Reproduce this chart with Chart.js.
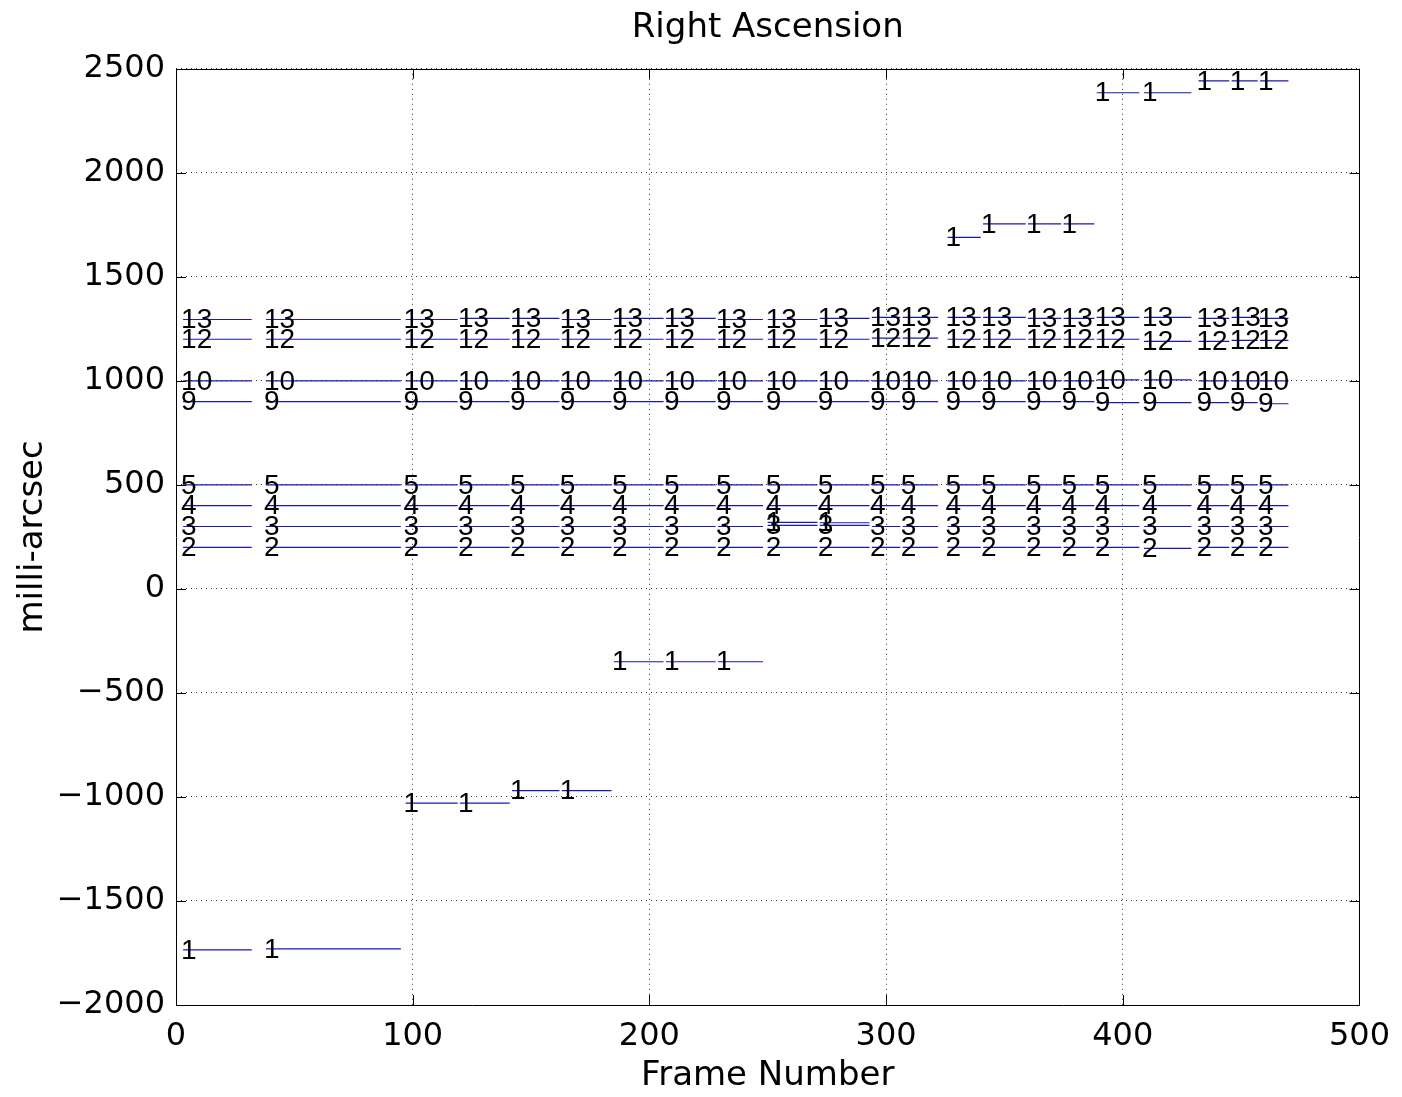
<!DOCTYPE html>
<html><head><meta charset="utf-8">
<script src="https://cdn.jsdelivr.net/npm/chart.js@4.4.1/dist/chart.umd.min.js"></script>
<style>html,body{margin:0;padding:0;background:#fff}</style>
</head><body>
<canvas id="c" width="1402" height="1097"></canvas>
<script>
// ---- data ----
const frameStart = [3, 38, 97, 120, 142, 163, 185, 207, 229, 250, 272, 294, 307, 326, 341, 360, 375, 389, 409, 432, 446, 458];
const frameEnd   = [32, 95, 119, 141, 162, 184, 206, 228, 248, 271, 293, 306, 322, 340, 359, 374, 388, 407, 429, 445, 457, 470];
const seriesNames = ['1', '2', '3', '4', '5', '9', '10', '12', '13'];
const s1  = [-1735, -1730, -1030, -1030, -970, -970, -350, -350, -350, 320, 318, null, null, 1690, 1755, 1755, 1755, 2385, 2385, 2442, 2442, 2442];
const s2  = [200, 200, 200, 200, 200, 200, 200, 200, 200, 200, 200, 200, 200, 200, 200, 200, 200, 200, 195, 200, 200, 200];
const s3  = [300, 300, 300, 300, 300, 300, 300, 300, 300, 305, 305, 300, 300, 300, 300, 300, 300, 300, 300, 300, 300, 300];
const s4  = [400, 400, 400, 400, 400, 400, 400, 400, 400, 400, 400, 400, 400, 400, 400, 400, 400, 400, 400, 400, 400, 400];
const s5  = [500, 500, 500, 500, 500, 500, 500, 500, 500, 500, 500, 500, 500, 500, 500, 500, 500, 500, 500, 500, 500, 500];
const s9  = [900, 900, 900, 900, 900, 900, 900, 900, 900, 900, 900, 900, 900, 900, 900, 900, 900, 895, 895, 895, 895, 890];
const s10 = [1000, 1000, 1000, 1000, 1000, 1000, 1000, 1000, 1000, 1000, 1000, 1000, 1000, 1000, 1000, 1000, 1000, 1005, 1005, 1000, 1000, 1000];
const s12 = [1200, 1200, 1200, 1200, 1200, 1200, 1200, 1200, 1200, 1200, 1200, 1205, 1205, 1200, 1200, 1200, 1200, 1200, 1190, 1190, 1195, 1195];
const s13 = [1295, 1295, 1295, 1300, 1300, 1295, 1300, 1300, 1295, 1295, 1300, 1305, 1305, 1305, 1305, 1300, 1300, 1305, 1305, 1300, 1305, 1300];
const xTicks = [0, 100, 200, 300, 400, 500];
const yTicks = [-2000, -1500, -1000, -500, 0, 500, 1000, 1500, 2000, 2500];
const titleText = 'Right Ascension';
const xTitle = 'Frame Number';
const yTitle = 'milli-arcsec';

const allSeries = [s1, s2, s3, s4, s5, s9, s10, s12, s13];
const FONT = 'DejaVu Sans';
const LABEL_FONT = 'Liberation Sans';
const LINE = 'rgb(25,25,180)';

const datasets = [];
allSeries.forEach((vals, si) => {
  vals.forEach((v, gi) => {
    if (v === null) return;
    datasets.push({
      label: seriesNames[si],
      data: [{x: frameStart[gi], y: v}, {x: frameEnd[gi], y: v}],
      showLine: true, borderColor: LINE, borderWidth: 1.2,
      pointRadius: 0, pointHoverRadius: 0, fill: false
    });
  });
});

const labelPlugin = {
  id: 'segLabels',
  afterDatasetsDraw(chart) {
    const ctx = chart.ctx;
    ctx.save();
    ctx.font = '28px "' + LABEL_FONT + '"';
    ctx.fillStyle = '#000';
    ctx.textAlign = 'left';
    ctx.textBaseline = 'middle';
    chart.data.datasets.forEach((ds, i) => {
      const p = chart.getDatasetMeta(i).data[0];
      ctx.fillText(ds.label, p.x - 2, p.y + 1);
    });
    ctx.restore();
  }
};

const framePlugin = {
  id: 'frameTicks',
  afterDraw(chart) {
    const {ctx, chartArea: a, scales} = chart;
    ctx.save();
    ctx.strokeStyle = '#000';
    ctx.lineWidth = 1;
    ctx.beginPath();
    ctx.rect(Math.round(a.left) + 0.5, Math.round(a.top) + 0.5, Math.round(a.right - a.left), Math.round(a.bottom - a.top));
    xTicks.forEach(t => {
      const x = Math.round(scales.x.getPixelForValue(t)) + 0.5;
      ctx.moveTo(x, a.bottom); ctx.lineTo(x, a.bottom - 10);
      ctx.moveTo(x, a.top); ctx.lineTo(x, a.top + 10);
    });
    yTicks.forEach(t => {
      const y = Math.round(scales.y.getPixelForValue(t)) + 0.5;
      ctx.moveTo(a.left, y); ctx.lineTo(a.left + 10, y);
      ctx.moveTo(a.right, y); ctx.lineTo(a.right - 10, y);
    });
    ctx.stroke();
    ctx.restore();
  }
};

new Chart(document.getElementById('c'), {
  type: 'scatter',
  data: {datasets},
  options: {
    responsive: false, animation: false, devicePixelRatio: 1,
    layout: {padding: {left: 0, right: 41, top: 0, bottom: 0}},
    plugins: {
      legend: {display: false}, tooltip: {enabled: false},
      title: {display: true, fullSize: false, text: titleText, color: '#000',
        font: {family: FONT, size: 34, weight: 'normal'}, padding: {top: 8, bottom: 20}}
    },
    scales: {
      x: {
        type: 'linear', min: 0, max: 500,
        afterFit: s => { s.height = 92; },
        afterBuildTicks: s => { s.ticks = xTicks.map(v => ({value: v})); },
        ticks: {color: '#000', font: {family: FONT, size: 32}, padding: 12, maxRotation: 0, autoSkip: false},
        grid: {color: '#333', lineWidth: 1, drawTicks: false},
        border: {display: false, dash: [1, 4]},
        title: {display: true, text: xTitle, color: '#000', font: {family: FONT, size: 34}, padding: {top: 0, bottom: 0}}
      },
      y: {
        type: 'linear', min: -2000, max: 2500,
        afterFit: s => { s.width = 176; },
        afterBuildTicks: s => { s.ticks = yTicks.map(v => ({value: v})); },
        ticks: {color: '#000', font: {family: FONT, size: 32}, padding: 11, autoSkip: false,
          callback: v => String(v).replace('-', '\u2212')},
        grid: {color: '#333', lineWidth: 1, drawTicks: false},
        border: {display: false, dash: [1, 4]},
        title: {display: true, text: yTitle, color: '#000', font: {family: FONT, size: 34}, padding: {top: 13, bottom: 0}}
      }
    }
  },
  plugins: [labelPlugin, framePlugin]
});
</script>
</body></html>
